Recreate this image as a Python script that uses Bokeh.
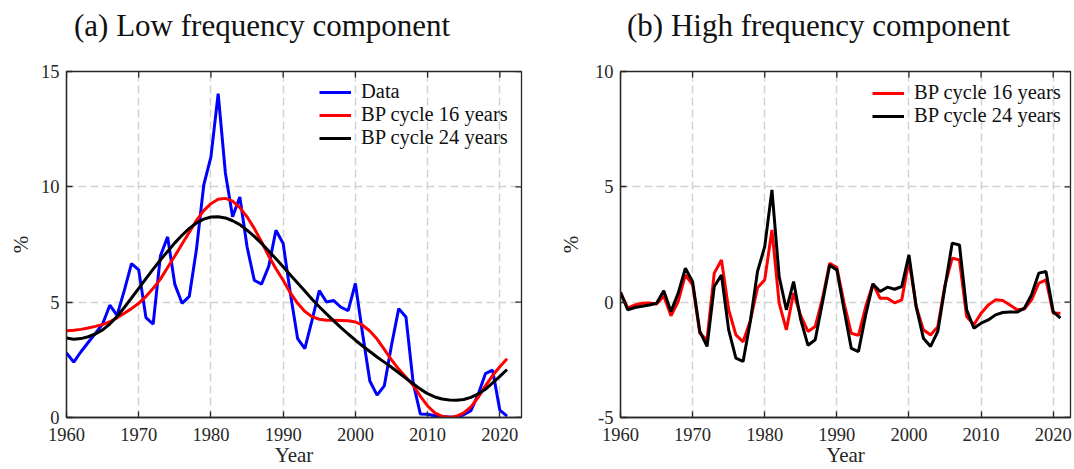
import math

from bokeh.plotting import figure
from bokeh.layouts import row, column
from bokeh.models import FixedTicker, Range1d, Legend, LegendItem, Div
from bokeh.embed import file_html
from bokeh.resources import INLINE

FONT = "Liberation Serif"

# ---- data -------------------------------------------------------------
years = list(range(1960, 2022))

data = [2.8, 2.4, 2.85, 3.25, 3.65, 4.05, 4.87, 4.43, 5.5, 6.67,
        6.4, 4.33, 4.05, 7.0, 7.83, 5.77, 4.95, 5.25, 7.3, 10.07,
        11.3, 14.04, 10.6, 8.7, 9.56, 7.4, 5.95, 5.78, 6.55, 8.12,
        7.54, 5.37, 3.42, 2.99, 4.22, 5.5, 5.01, 5.07, 4.78, 4.63,
        5.81, 3.62, 1.58, 0.97, 1.37, 3.13, 4.72, 4.36, 1.5, 0.15,
        0.14, 0.08, 0.04, 0.02, 0.0, 0.12, 0.3, 1.0, 1.9, 2.05,
        0.32, 0.06]

trend_16 = [3.76, 3.78, 3.82, 3.88, 3.95, 4.03, 4.15, 4.32, 4.52, 4.72,
            4.95, 5.25, 5.6, 6.0, 6.5, 7.0, 7.52, 8.03, 8.55, 8.97,
            9.27, 9.46, 9.5, 9.38, 9.1, 8.7, 8.2, 7.62, 7.0, 6.45,
            5.95, 5.4, 4.95, 4.6, 4.37, 4.26, 4.22, 4.22, 4.21, 4.19,
            4.14, 4.0, 3.75, 3.4, 2.95, 2.5, 2.1, 1.75, 1.4, 0.92,
            0.5, 0.2, 0.05, 0.0, 0.05, 0.2, 0.46, 0.87, 1.37, 1.82,
            2.2, 2.55]

trend_24 = [3.45, 3.39, 3.42, 3.5, 3.62, 3.8, 4.05, 4.38, 4.77, 5.18,
            5.6, 6.02, 6.43, 6.83, 7.2, 7.57, 7.9, 8.2, 8.43, 8.6,
            8.69, 8.7, 8.65, 8.53, 8.36, 8.12, 7.85, 7.55, 7.22, 6.88,
            6.53, 6.18, 5.83, 5.48, 5.13, 4.8, 4.49, 4.19, 3.9, 3.62,
            3.35, 3.1, 2.86, 2.62, 2.4, 2.18, 1.94, 1.7, 1.46, 1.23,
            1.03, 0.89, 0.8, 0.76, 0.75, 0.78, 0.87, 1.02, 1.22, 1.5,
            1.78, 2.08]

cycle_16 = [0.43, -0.26, -0.12, -0.05, -0.04, -0.08, 0.27, -0.59, 0.03, 1.18,
            0.75, -1.35, -1.63, 1.26, 1.83, -0.33, -1.42, -1.72, -0.8, 0.62,
            0.97, 3.13, -0.04, -1.2, 0.4, -0.6, -1.27, -1.06, 0.15, 1.69,
            1.5, -0.04, -1.35, -1.44, -0.2, 0.79, 0.17, 0.17, -0.03, 0.1,
            1.83, -0.19, -1.2, -1.42, -1.06, 0.75, 1.91, 1.83, -0.62, -0.98,
            -0.48, -0.12, 0.1, 0.07, -0.12, -0.33, -0.3, 0.1, 0.82, 0.97,
            -0.48, -0.48]

cycle_24 = [0.43, -0.33, -0.23, -0.18, -0.12, -0.05, 0.5, -0.41, 0.39, 1.47,
            0.89, -1.27, -1.92, 0.68, 1.18, -1.2, -2.43, -2.57, -0.84, 1.33,
            2.41, 4.87, 1.11, -0.33, 0.89, -0.77, -1.87, -1.63, -0.02, 1.6,
            1.4, -0.33, -2.0, -2.14, -0.55, 0.79, 0.46, 0.65, 0.56, 0.68,
            2.05, -0.19, -1.56, -1.92, -1.27, 0.68, 2.56, 2.48, -0.33, -1.13,
            -0.91, -0.77, -0.55, -0.45, -0.43, -0.43, -0.26, 0.32, 1.26, 1.33,
            -0.41, -0.69]

x_ticks = [1960, 1970, 1980, 1990, 2000, 2010, 2020]
y_ticks_low = [0, 5, 10, 15]
y_ticks_high = [-5, 0, 5, 10]
y_labels_high = {-5: "-5", 0: "0", 5: "5", 10: "10"}

AXIS_COLOR = "#262626"
GRID_COLOR = "#d2d2d2"
TICK_LEN = 6
CAPTION_H = 44
HEIGHT = 469 - CAPTION_H
BORDER_TOP = 71 - CAPTION_H
BORDER_BOTTOM = 52
FRAME_H = HEIGHT - BORDER_TOP - BORDER_BOTTOM


def caption(text, width, pad_left):
    html = ('<div style="font-family: \'Liberation Serif\', serif; '
            'font-size: 31px; line-height: 34px; padding-top: 9px; '
            f'padding-left: {pad_left}px; color: #111111; '
            f'white-space: nowrap; margin: 0;">{text}</div>')
    return Div(text=html, width=width, height=CAPTION_H, margin=0)


def style_axis(ax):
    ax.axis_line_color = AXIS_COLOR
    ax.axis_line_width = 1.3
    ax.major_tick_line_color = AXIS_COLOR
    ax.major_tick_line_width = 1.3
    ax.major_tick_in = TICK_LEN
    ax.major_tick_out = 0
    ax.minor_tick_line_color = None
    ax.major_label_text_font = FONT
    ax.major_label_text_color = AXIS_COLOR
    ax.major_label_text_font_size = "18.5px"
    ax.axis_label_text_font = FONT
    ax.axis_label_text_font_style = "normal"
    ax.axis_label_text_font_size = "21px"
    ax.axis_label_text_color = AXIS_COLOR


def make_panel(width, border_left, border_right, x_end, y_range,
               y_ticks, ylabel_standoff):
    p = figure(width=width, height=HEIGHT, output_backend="svg",
               toolbar_location=None, x_range=Range1d(1960, x_end),
               y_range=Range1d(*y_range), title=None,
               min_border_left=border_left, min_border_right=border_right,
               min_border_top=BORDER_TOP, min_border_bottom=BORDER_BOTTOM,
               x_axis_label="Year", y_axis_label="%")
    # closed box around the axes
    p.outline_line_color = AXIS_COLOR
    p.outline_line_width = 1.3
    p.background_fill_color = "white"
    p.border_fill_color = "white"

    xt = FixedTicker(ticks=x_ticks)
    yt = FixedTicker(ticks=y_ticks)
    for ax in p.below:
        style_axis(ax)
        ax.ticker = xt
        ax.major_label_standoff = 10
        ax.axis_label_standoff = -1
    for ax in p.left:
        style_axis(ax)
        ax.ticker = yt
        ax.major_label_standoff = 7
        ax.axis_label_standoff = ylabel_standoff

    for g in (p.xgrid, p.ygrid):
        g.grid_line_color = GRID_COLOR
        g.grid_line_width = 1.5
        g.grid_line_dash = "8 4"
    p.xgrid.ticker = xt
    p.ygrid.ticker = yt

    # inward tick marks on the top and right edges of the box
    p.ray(x=x_ticks, y=[y_range[1]] * len(x_ticks), length=TICK_LEN,
          length_units="screen", angle=-math.pi / 2,
          line_color=AXIS_COLOR, line_width=1.3)
    p.ray(x=[x_end] * len(y_ticks), y=y_ticks, length=TICK_LEN,
          length_units="screen", angle=math.pi,
          line_color=AXIS_COLOR, line_width=1.3)
    return p


def style_legend(leg, n_items, left):
    leg_h = 2 * 8 + n_items * 22
    leg.location = (left, FRAME_H + 4 - leg_h)
    leg.border_line_color = None
    leg.background_fill_alpha = 0
    leg.label_text_font = FONT
    leg.label_text_font_size = "20.5px"
    leg.label_text_color = "#111111"
    leg.glyph_width = 32
    leg.glyph_height = 22
    leg.label_height = 22
    leg.label_standoff = 10
    leg.spacing = 0
    leg.padding = 8
    leg.margin = 0


# (a) low frequency component
p1 = make_panel(555, 66, 34, 2023, (0, 15), y_ticks_low, 5)
r_data = p1.line(years, data, line_color="#0000ff", line_width=3)
r_16 = p1.line(years, trend_16, line_color="#ff0000", line_width=3)
r_24 = p1.line(years, trend_24, line_color="#000000", line_width=3)
leg1 = Legend(items=[LegendItem(label="Data", renderers=[r_data]),
                     LegendItem(label="BP cycle 16 years", renderers=[r_16]),
                     LegendItem(label="BP cycle 24 years", renderers=[r_24])])
style_legend(leg1, 3, 253)
p1.add_layout(leg1)

# (b) high frequency component
p2 = make_panel(519, 65, 4, 2022.4, (-5, 10), y_ticks_high, 9)
for ax in p2.left:
    ax.major_label_overrides = y_labels_high
h_16 = p2.line(years, cycle_16, line_color="#ff0000", line_width=3)
h_24 = p2.line(years, cycle_24, line_color="#000000", line_width=3)
leg2 = Legend(items=[LegendItem(label="BP cycle 16 years", renderers=[h_16]),
                     LegendItem(label="BP cycle 24 years", renderers=[h_24])])
style_legend(leg2, 2, 252)
p2.add_layout(leg2)

captions = row(caption("(a) Low frequency component", 555, 74),
               caption("(b) High frequency component", 519, 72),
               spacing=0)
layout = column(captions, row(p1, p2, spacing=0), spacing=0)
open("out.html", "w").write(file_html(layout, INLINE))
